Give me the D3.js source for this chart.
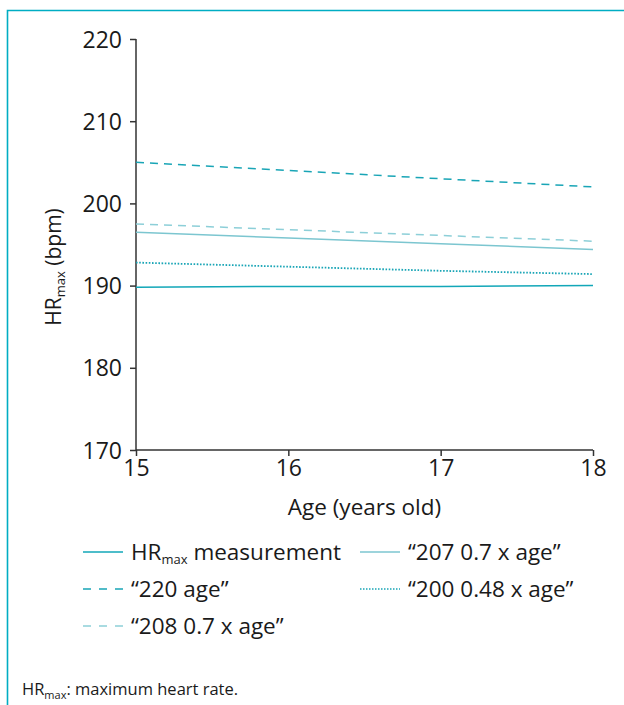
<!DOCTYPE html>
<html>
<head>
<meta charset="utf-8">
<script src="https://cdn.jsdelivr.net/npm/d3@7"></script>
<style>
  body { margin: 0; background: #fff; }
  svg text { font-family: "Open Sans", "Noto Sans", sans-serif; fill: #1a1a1a; }
</style>
</head>
<body>
<div id="chart"></div>
<script>
// data
var ages = [15, 16, 17, 18];
var measured = [189.8, 189.9, 189.9, 190.0];
var formula220 = [205, 204, 203, 202];
var formula208 = [197.5, 196.8, 196.1, 195.4];
var formula207 = [196.5, 195.8, 195.1, 194.4];
var formula200 = [192.8, 192.3, 191.8, 191.4];
var yTicks = [170, 180, 190, 200, 210, 220];
var xTicks = [15, 16, 17, 18];

var series = [
    { "name": "measured", "values": measured, "color": "#12a7b8", "dash": null, "width": 1.5 },
    { "name": "220", "values": formula220, "color": "#19a5b6", "dash": "8,6", "width": 1.5 },
    { "name": "208", "values": formula208, "color": "#8dcfd8", "dash": "8,6", "width": 1.5 },
    { "name": "207", "values": formula207, "color": "#7cc6d0", "dash": null, "width": 1.5 },
    { "name": "200", "values": formula200, "color": "#19a5b6", "dash": "1.6,1.6", "width": 1.8 }
];

var width = 624;
var height = 705;

var svg = d3.select("#chart").append("svg")
    .attr("width", width)
    .attr("height", height);

// frame: left + top border only
svg.append("path")
    .attr("d", "M7.5," + height + "V10.5H" + width)
    .attr("fill", "none")
    .attr("stroke", "#00adc3")
    .attr("stroke-width", 1.6);

var x = d3.scaleLinear().domain([15, 18]).range([136, 593]);
var y = d3.scaleLinear().domain([170, 220]).range([450, 39]);

var g = svg.append("g");

var yAxis = g.append("g")
    .attr("transform", "translate(" + x(15) + ",0)")
    .call(d3.axisLeft(y).tickValues(yTicks).tickSize(6).tickPadding(8).tickFormat(d3.format("d")));

var xAxis = g.append("g")
    .attr("transform", "translate(0," + y(170) + ")")
    .call(d3.axisBottom(x).tickValues(xTicks).tickSize(6).tickPadding(2).tickFormat(d3.format("d")));

[yAxis, xAxis].forEach(function(a) {
    a.attr("font-size", null).attr("font-family", null);
    a.select(".domain").attr("stroke", "#333").attr("stroke-width", 1.5);
    a.selectAll(".tick line").attr("stroke", "#333").attr("stroke-width", 1.5);
    a.selectAll(".tick text").style("font-size", "23px").attr("fill", "#1a1a1a");
});
xAxis.selectAll(".tick text").attr("dy", "0.8em");
yAxis.selectAll(".tick text").attr("dy", "0.35em");
// plain domains, no outer ticks
yAxis.select(".domain").attr("d", "M0," + y(220) + "V" + y(170));
xAxis.select(".domain").attr("d", "M0,0H" + (x(18) - x(15))).attr("transform", "translate(" + x(15) + ",0)");

// axis titles
var yTitle = g.append("text")
    .attr("transform", "translate(61,267) rotate(-90)")
    .attr("text-anchor", "middle")
    .style("font-size", "21px");
yTitle.append("tspan").text("HR");
yTitle.append("tspan").text("max").style("font-size", "13px").attr("dy", "4");
yTitle.append("tspan").text(" (bpm)").attr("dy", "-4");

g.append("text")
    .attr("x", (x(15) + x(18)) / 2)
    .attr("y", 515)
    .attr("text-anchor", "middle")
    .style("font-size", "22.5px")
    .text("Age (years old)");

// lines
var line = d3.line()
    .x(function(d, i) { return x(ages[i]); })
    .y(function(d) { return y(d); });

g.append("g").selectAll("path").data(series).enter()
    .append("path")
    .attr("d", function(d) { return line(d.values); })
    .attr("fill", "none")
    .attr("stroke", function(d) { return d.color; })
    .attr("stroke-width", function(d) { return d.width; })
    .attr("stroke-dasharray", function(d) { return d.dash; });

// legend
var legendItems = [
    { "s": series[0], "label": ["HR", "max", " measurement"], "x": 83, "y": 552 },
    { "s": series[1], "label": ["\u201c220 age\u201d"], "x": 83, "y": 589 },
    { "s": series[2], "label": ["\u201c208 0.7 x age\u201d"], "x": 83, "y": 626 },
    { "s": series[3], "label": ["\u201c207 0.7 x age\u201d"], "x": 360, "y": 552 },
    { "s": series[4], "label": ["\u201c200 0.48 x age\u201d"], "x": 360, "y": 589 }
];

var legend = g.append("g").selectAll("g").data(legendItems).enter()
    .append("g")
    .attr("transform", function(d) { return "translate(" + d.x + "," + d.y + ")"; });

legend.append("line")
    .attr("x1", 0).attr("x2", 40)
    .attr("stroke", function(d) { return d.s.color; })
    .attr("stroke-width", function(d) { return d.s.dash == "1.6,1.6" ? 1.6 : 1.5; })
    .attr("stroke-dasharray", function(d) {
        if (d.s.dash == "8,6") return "8,8";
        if (d.s.dash) return "1.5,1.5";
        return null;
    });

legend.each(function(d) {
    var t = d3.select(this).append("text")
        .attr("x", 48)
        .attr("y", 8)
        .style("font-size", "22.5px");
    if (d.label.length == 3) {
        t.append("tspan").text(d.label[0]);
        t.append("tspan").text(d.label[1]).style("font-size", "13px").attr("dy", "4");
        t.append("tspan").text(d.label[2]).attr("dy", "-4");
    } else {
        t.text(d.label[0]);
    }
});

// footnote
var note = svg.append("text")
    .attr("x", 22)
    .attr("y", 695)
    .style("font-size", "16.5px");
note.append("tspan").text("HR");
note.append("tspan").text("max").style("font-size", "11px").attr("dy", "4");
note.append("tspan").text(": maximum heart rate.").attr("dy", "-4");
</script>
</body>
</html>
